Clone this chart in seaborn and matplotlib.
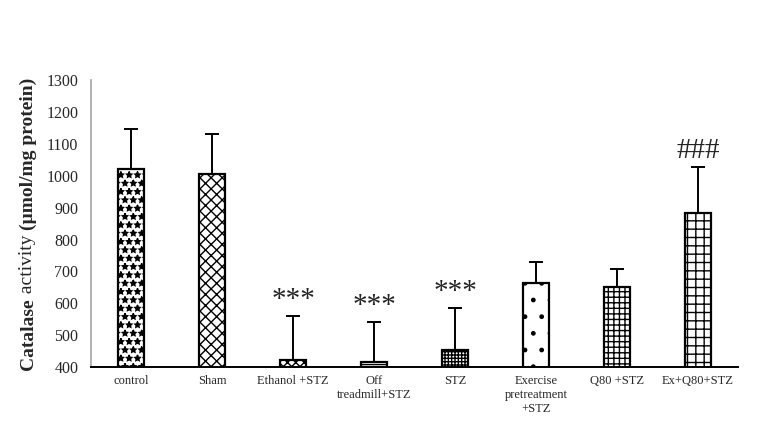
import matplotlib
matplotlib.use("Agg")
import matplotlib.pyplot as plt
import seaborn as sns
import numpy as np
import pandas as pd

categories = ["control", "Sham", "Ethanol +STZ", "Off\ntreadmill+STZ", "STZ",
              "Exercise\npretreatment\n+STZ", "Q80 +STZ", "Ex+Q80+STZ"]
means = [1020, 1005, 422, 415, 455, 663, 651, 885]
errors = [128, 125, 137, 126, 130, 66, 58, 142]
marks = ["", "", "***", "***", "***", "", "", "###"]
hatches = ["**", "xxx", "xxxx", "----", "+++++", ".", "+++", "++"]

sns.set_theme(style="white")
plt.rcParams["font.family"] = ["Liberation Serif", "DejaVu Serif"]
plt.rcParams["hatch.linewidth"] = 1.0

df = pd.DataFrame({"group": categories, "value": means})

fig = plt.figure(figsize=(7.58, 4.36), dpi=100)
ax = fig.add_axes([0.12, 0.158, 0.854, 0.658])

sns.barplot(data=df, x="group", y="value", color="white", width=0.32,
            edgecolor="black", linewidth=1.6, ax=ax, errorbar=None)
for p, h in zip(ax.patches, hatches):
    p.set_hatch(h)
    p.set_facecolor("white")
    p.set_edgecolor("black")

x = np.arange(len(categories))
ax.errorbar(x, means, yerr=[np.zeros(len(means)), errors], fmt="none",
            ecolor="black", elinewidth=1.4, capsize=5, capthick=1.4, zorder=3)
for xi, m, e, t in zip(x, means, errors, marks):
    if t:
        ax.text(xi, m + e + 10, t, ha="center", va="bottom", fontsize=21,
                color="#222222")

ax.set_ylim(400, 1300)
ax.set_xlim(-0.5, 7.5)
ax.set_yticks(range(400, 1301, 100))
ax.tick_params(axis="y", labelsize=11.5, length=0, pad=9)
ax.tick_params(axis="x", labelsize=9, length=0, pad=6)
ax.set_xlabel("")
ax.set_ylabel("")
for s in ["top", "right"]:
    ax.spines[s].set_visible(False)
ax.spines["left"].set_color("#a6a6a6")
ax.spines["left"].set_linewidth(1.2)
ax.spines["bottom"].set_color("black")
ax.spines["bottom"].set_linewidth(1.4)

# y label with mixed weights
parts = [("Catalase", "bold"), (" activity ", "normal"), ("(µmol/mg protein)", "bold")]
fig.canvas.draw()
renderer = fig.canvas.get_renderer()
tmp = []
total = 0
for s, w in parts:
    t = fig.text(0, 0, s, rotation=90, fontsize=14, fontweight=w)
    bb = t.get_window_extent(renderer)
    tmp.append((t, bb.height))
    total += bb.height
ycenter_px = (0.158 + 0.658 / 2) * fig.bbox.height
start = ycenter_px - total / 2
xpos = 28 / 758
for t, h in tmp:
    t.set_position((xpos, start / fig.bbox.height))
    t.set_ha("center")
    t.set_va("bottom")
    start += h

fig.savefig("out.png", dpi=100)
